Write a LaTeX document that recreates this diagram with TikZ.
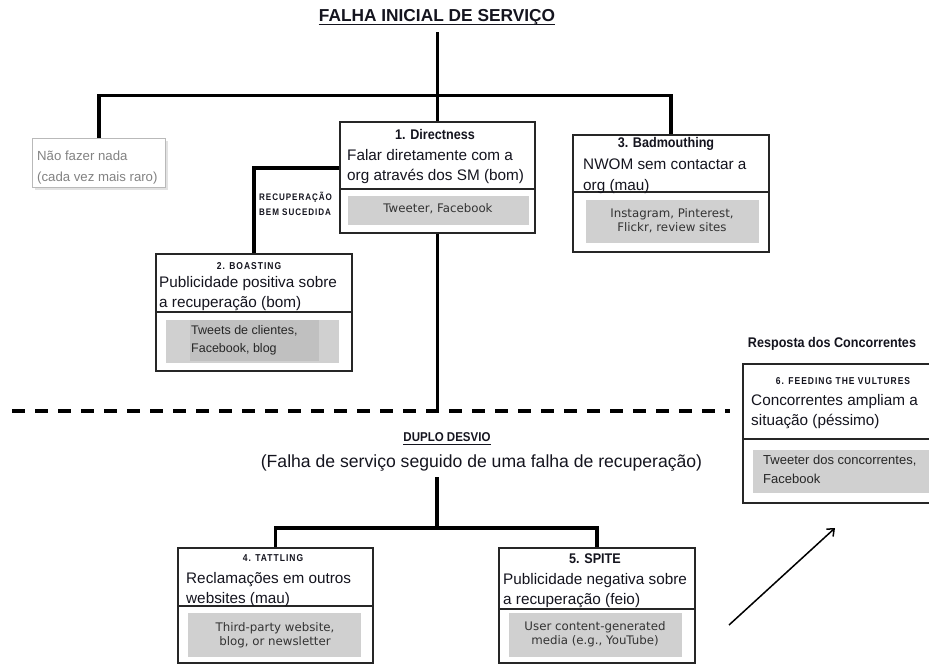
\documentclass[tikz,border=0pt]{standalone}
\usepackage{fontspec}
\setmainfont{Liberation Sans}
\newfontfamily\dvfont{DejaVu Sans}
\newfontfamily\labfont[LetterSpace=10,FakeStretch=0.85]{Liberation Sans}
\newfontfamily\narrowfont[FakeStretch=0.9]{Liberation Sans}
\usetikzlibrary{arrows.meta,shadows}
\definecolor{grayfill}{RGB}{208,208,208}
\definecolor{grayfilldark}{RGB}{192,192,192}
\definecolor{txt}{RGB}{20,20,30}
\definecolor{softgray}{RGB}{130,130,130}
\begin{document}
\begin{tikzpicture}[x=1pt,y=-1pt,
  conn/.style={line width=3.5pt},
  dashline/.style={line width=4pt, dash pattern=on 13pt off 10pt},
  boxst/.style={draw=black!85, line width=1.5pt, anchor=north west, inner sep=0, fill=white},
  grayrect/.style={fill=grayfill, anchor=north west, inner sep=0},
  divider/.style={draw=black!85, line width=1.5pt},
  body/.style={font=\fontsize{15.3}{20}\selectfont, align=left, inner sep=0, text=txt, anchor=north west},
  dvtext/.style={font=\dvfont\fontsize{11.8}{14.5}\selectfont, align=center, inner sep=0, text=black!80},
  smalltext/.style={font=\fontsize{12.5}{18}\selectfont, align=left, inner sep=0, text=black!85, anchor=north west},
  headlab/.style={font=\narrowfont\bfseries\fontsize{14}{16}\selectfont, inner sep=0, text=txt},
  caplab/.style={font=\labfont\bfseries\fontsize{10}{12}\selectfont, inner sep=0, text=txt},
]
\useasboundingbox (0,0) rectangle (929,664);

% ---------- boxes ----------
\node[draw=gray!55, line width=1pt, anchor=north west, inner sep=0, fill=white,
      minimum width=133pt, minimum height=49pt,
      drop shadow={shadow xshift=2pt, shadow yshift=-2pt, fill=gray!45}] (b0) at (32,138) {};
\node[boxst, minimum width=195pt, minimum height=111pt] (b1) at (339,121) {};
\node[boxst, minimum width=196pt, minimum height=117pt] (b3) at (572,134) {};
\node[boxst, minimum width=196pt, minimum height=117pt] (b2) at (155,253) {};
\node[boxst, minimum width=195pt, minimum height=115pt] (b4) at (177,547) {};
\node[boxst, minimum width=196pt, minimum height=115pt] (b5) at (498,547) {};
\node[boxst, minimum width=192pt, minimum height=139pt] (b6) at (742,363) {};

% dividers
\coordinate (d1) at (0,189);
\coordinate (d3) at (0,192);
\coordinate (d2) at (0,312);
\coordinate (d4) at (0,606);
\coordinate (d5) at (0,609);
\coordinate (d6) at (0,439);
\draw[divider] (b1.west |- d1) -- (b1.east |- d1);
\draw[divider] (b3.west |- d3) -- (b3.east |- d3);
\draw[divider] (b2.west |- d2) -- (b2.east |- d2);
\draw[divider] (b4.west |- d4) -- (b4.east |- d4);
\draw[divider] (b5.west |- d5) -- (b5.east |- d5);
\draw[divider] (b6.west |- d6) -- (b6.east |- d6);

% gray rects
\node[grayrect, minimum width=181pt, minimum height=29pt] (g1) at (348,196) {};
\node[grayrect, minimum width=173pt, minimum height=43pt] (g3) at (586,200) {};
\node[grayrect, minimum width=173pt, minimum height=43pt] (g2) at (166,320) {};
\node[grayrect, fill=grayfilldark, minimum width=129pt, minimum height=41pt] (g2i) at (190,320) {};
\node[grayrect, minimum width=173pt, minimum height=44pt] (g4) at (188,613) {};
\node[grayrect, minimum width=173pt, minimum height=44pt] (g5) at (509,613) {};
\node[grayrect, minimum width=180pt, minimum height=43pt] (g6) at (753,450) {};

% ---------- titles ----------
\node[font=\bfseries\fontsize{17.3}{20}\selectfont, inner sep=0, text=txt] (t0) at (437,17) {FALHA INICIAL DE SERVIÇO};
\draw[line width=1.3pt, draw=txt] ([yshift=-3.5pt]t0.base west) -- ([yshift=-3.5pt]t0.base east);

\node[font=\narrowfont\bfseries\fontsize{12.8}{15}\selectfont, inner sep=0, text=txt] (t1) at (447,437.5) {DUPLO DESVIO};
\draw[line width=1.1pt, draw=txt] ([yshift=-2.8pt]t1.base west) -- ([yshift=-2.8pt]t1.base east);
\node[font=\fontsize{17.6}{20}\selectfont, inner sep=0, text=txt] (t2) at (481.5,463) {(Falha de serviço seguido de uma falha de recuperação)};

\node[font=\narrowfont\bfseries\fontsize{14}{16}\selectfont, inner sep=0, text=txt] (t3) at (832,344) {Resposta dos Concorrentes};

% ---------- connectors ----------
\coordinate (bar) at (0,95.5);
\draw[conn] ([yshift=-7pt]t0.south -| b1.north) -- (b1.north);
\draw[conn] (b0.north) -- (b0.north |- bar) -- (b3.north |- bar) -- (b3.north);
\coordinate (lh) at (0,168);
\draw[conn] (b1.west |- lh) -- (b2.north |- lh) -- (b2.north);
\coordinate (dL) at (12,411);
\coordinate (dR) at (730,411);
\draw[conn] (b1.south) -- (b1.south |- dL);
\draw[dashline] (dL) -- (dR);
\coordinate (s0) at (437,477);
\coordinate (sb) at (0,528);
\draw[conn] (s0) -- (s0 |- sb);
\draw[conn] (b4.north) -- (b4.north |- sb) -- (b5.north |- sb) -- (b5.north);
\coordinate (a0) at (729,625);
\coordinate (a1) at (835,528);
\draw[line width=1.5pt, -{Straight Barb[length=6pt,width=10pt]}] (a0) -- (a1);

% ---------- labels ----------
\node[headlab] (l1) at (435,134) {1. Directness};
\node[headlab] (l3) at (666,144) {3. Badmouthing};
\node[headlab] (l5) at (595,559) {5. SPITE};
\node[caplab] (l2) at (249,266) {2. BOASTING};
\node[caplab] (l4) at (273,558) {4. TATTLING};
\node[caplab] (l6) at (843,381) {6. FEEDING THE VULTURES};
\node[font=\labfont\bfseries\fontsize{9.5}{15}\selectfont, inner sep=0, text=txt, align=left, anchor=north west] (lr) at (259,191.5) {RECUPERAÇÃO\\BEM SUCEDIDA};

% ---------- body texts ----------
\node[font=\fontsize{13.2}{21}\selectfont, align=left, inner sep=0, text=softgray, anchor=north west] (x0) at (37,151) {Não fazer nada\\(cada vez mais raro)};
\node[body] (x1) at (347,149.5) {Falar diretamente com a\\org através dos SM (bom)};
\node[body, font=\fontsize{15.3}{21}\selectfont] (x3) at (583,158.3) {NWOM sem contactar a\\org (mau)};
\node[body] (x2) at (159,276.3) {Publicidade positiva sobre\\a recuperação (bom)};
\node[body] (x4) at (186,572.3) {Reclamações em outros\\websites (mau)};
\node[body] (x5) at (503,573.3) {Publicidade negativa sobre\\a recuperação (feio)};
\node[body] (x6) at (751,394.3) {Concorrentes ampliam a\\situação (péssimo)};

% ---------- gray box texts ----------
\node[dvtext] (y1) at (438,209) {Tweeter, Facebook};
\node[dvtext] (y3) at (672,220.5) {Instagram, Pinterest,\\Flickr, review sites};
\node[dvtext] (y4) at (275,635) {Third-party website,\\blog, or newsletter};
\node[dvtext] (y5) at (595,634) {User content-generated\\media (e.g., YouTube)};
\node[smalltext] (y2) at (191,325.4) {Tweets de clientes,\\Facebook, blog};
\node[smalltext, font=\fontsize{13}{19}\selectfont] (y6) at (763,455) {Tweeter dos concorrentes,\\Facebook};
\end{tikzpicture}
\end{document}
